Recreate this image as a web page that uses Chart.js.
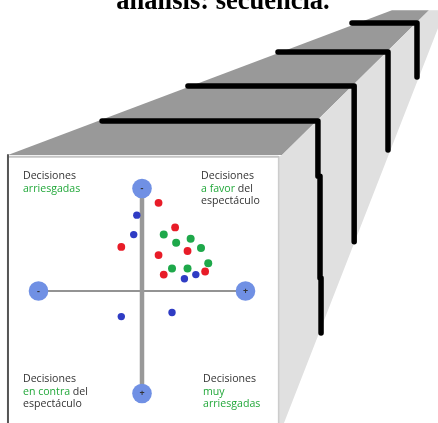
<!DOCTYPE html>
<html>
<head>
<meta charset="utf-8">
<style>
  html, body { margin: 0; padding: 0; background: #fff; overflow: hidden; }
  #wrap { width: 438px; height: 423px; }
</style>
</head>
<body>
<div id="wrap"><canvas id="chart" width="438" height="423"></canvas></div>
<script src="https://cdn.jsdelivr.net/npm/chart.js@4"></script>
<script>
// decisions on the two axes, values run -100..100
const bluePoints = [[-5, 74], [-8, 55], [41, 12], [52, 16], [-20, -25], [29, -21]];
const redPoints = [[16, 86], [32, 62], [-20, 43], [16, 35], [44, 39], [21, 16], [61, 19]];
const greenPoints = [[21, 55], [33, 47], [47, 51], [57, 42], [64, 27], [29, 22], [44, 22]];
const axisEnds = [[-100, 0], [100, 0], [0, 100], [0, -100]];
const axisSigns = ['-', '+', '-', '+'];

// the box around the chart, same units
const topFace = [[-129.5, 132.7], [241.5, 274], [277.3, 274], [135.3, 132.7]];
const sideFace = [[131.5, 131], [135.3, 132.7], [277.3, 274], [292.8, 274], [137.2, -128.8], [131.5, -128.8]];
const leftEdge = [[-129.5, 132.7], [-129.5, -128.8]];
const topEdge = [[-129.5, 131], [131.5, 131]];
const rightEdge = [[132, 131], [132, -128.8]];

// the four black brackets, front to back
const bracket1 = [[-38.6, 165.9], [170, 165.9], [170, 112], [172, 112], [172, 12.7], [173, 12.7], [173, -41]];
const bracket2 = [[44.4, 200], [205, 200], [205, 48]];
const bracket3 = [[131.4, 233.2], [237.7, 233.2], [237.7, 137.6]];
const bracket4 = [[202.9, 261.5], [265.7, 261.5], [265.7, 208.8]];

const titleText = 'análisis: secuencia.';
const quadrantLabels = [
    { x: -115, y: 112, lines: [[['Decisiones', 0]], [['arriesgadas', 1]]] },
    { x: 57, y: 112, lines: [[['Decisiones', 0]], [['a favor', 1], [' del', 0]], [['espectáculo', 0]]] },
    { x: -115, y: -86, lines: [[['Decisiones', 0]], [['en contra', 1], [' del', 0]], [['espectáculo', 0]]] },
    { x: 59, y: -86, lines: [[['Decisiones', 0]], [['muy', 1]], [['arriesgadas', 1]]] }
];

const toXY = list => list.map(p => ({ x: p[0], y: p[1] }));

function lineSet(list, color, width, order) {
    return { type: 'line', data: toXY(list), borderColor: color, borderWidth: width, pointRadius: 0, fill: false, order: order, borderCapStyle: 'round', borderJoinStyle: 'round', tension: 0 };
}
function faceSet(list, color, order) {
    return { type: 'line', data: toXY(list), borderColor: color, backgroundColor: color, borderWidth: 0, pointRadius: 0, fill: 'shape', order: order, tension: 0 };
}
function dotSet(list, color, radius, order) {
    return { type: 'scatter', data: toXY(list), backgroundColor: color, borderWidth: 0, pointRadius: radius, order: order };
}

// the inner picture is soft in the original, so blur the dots and axes a little
const softPlugin = {
    id: 'soft',
    beforeDatasetDraw(chart, args) {
        if (args.meta.order <= 6) chart.ctx.filter = 'blur(0.6px)';
    },
    afterDatasetDraw(chart) {
        chart.ctx.filter = 'none';
    }
};

// quadrant captions, title and the +/- signs
const textPlugin = {
    id: 'texts',
    afterDatasetsDraw(chart) {
        const ctx = chart.ctx;
        const sx = chart.scales.x;
        const sy = chart.scales.y;
        ctx.save();
        ctx.filter = 'blur(0.35px)';
        ctx.textBaseline = 'middle';
        ctx.font = '10.6px "Open Sans"';
        quadrantLabels.forEach(label => {
            label.lines.forEach((runs, i) => {
                let px = sx.getPixelForValue(label.x);
                const py = sy.getPixelForValue(label.y) + i * 12.5;
                runs.forEach(run => {
                    ctx.fillStyle = run[1] ? '#22a83a' : '#333333';
                    ctx.fillText(run[0], px, py);
                    px += ctx.measureText(run[0]).width;
                });
            });
        });
        ctx.textAlign = 'center';
        ctx.fillStyle = '#333';
        ctx.font = 'bold 9px "Open Sans"';
        axisEnds.forEach((end, i) => {
            ctx.fillText(axisSigns[i], sx.getPixelForValue(end[0]), sy.getPixelForValue(end[1]));
        });
        ctx.filter = 'none';
        ctx.fillStyle = '#000';
        ctx.font = 'bold 26.5px "Liberation Serif"';
        ctx.textBaseline = 'alphabetic';
        ctx.fillText(titleText, 223, 9);
        ctx.restore();
    }
};

new Chart(document.getElementById('chart').getContext('2d'), {
    data: {
        datasets: [
            faceSet(topFace, '#999999', 20),
            faceSet(sideFace, '#e0e0e0', 19),
            lineSet(topEdge, '#c4c4c4', 2, 18),
            lineSet(rightEdge, '#cccccc', 1.5, 18),
            lineSet(leftEdge, '#555555', 2, 17),
            lineSet(bracket1, '#000000', 5.5, 9),
            lineSet(bracket2, '#000000', 5.5, 10),
            lineSet(bracket3, '#000000', 5.5, 11),
            lineSet(bracket4, '#000000', 5.5, 12),
            lineSet([axisEnds[0], axisEnds[1]], '#707070', 1.3, 6),
            lineSet([axisEnds[2], axisEnds[3]], '#999999', 4.5, 5),
            dotSet(axisEnds, '#7090e4', 9.8, 4),
            dotSet(bluePoints, '#2f3cc4', 3.7, 3),
            dotSet(redPoints, '#e81c28', 3.9, 2),
            dotSet(greenPoints, '#1ea84a', 4, 1)
        ]
    },
    options: {
        responsive: false,
        animation: false,
        events: [],
        layout: { padding: 0, autoPadding: false },
        plugins: { legend: { display: false }, tooltip: { enabled: false }, title: { display: false } },
        scales: {
            x: { type: 'linear', min: -137.2, max: 286, display: false },
            y: { type: 'linear', min: -128.8, max: 283.9, display: false }
        }
    },
    plugins: [softPlugin, textPlugin]
});
</script>
</body>
</html>
